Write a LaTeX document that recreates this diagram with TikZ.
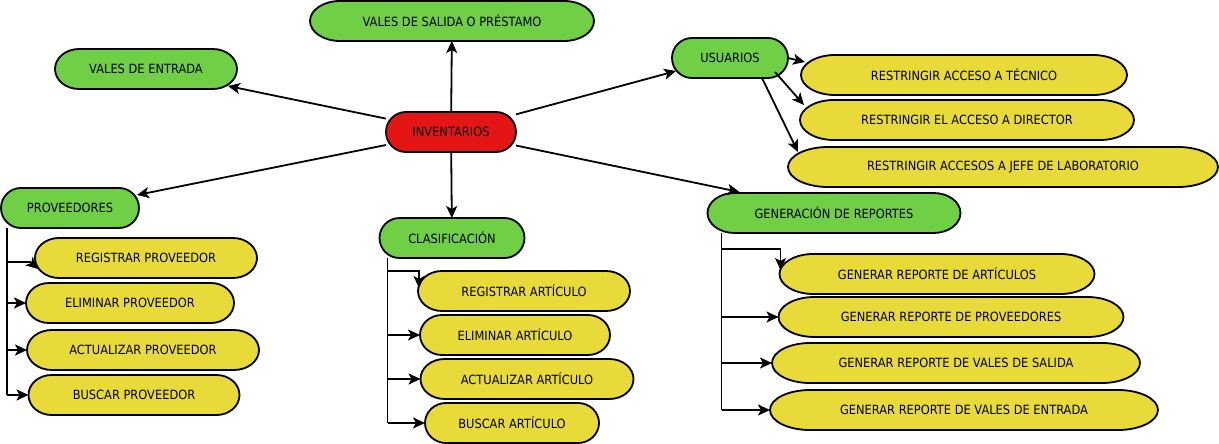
\documentclass[tikz,border=0pt]{standalone}
\usepackage{fontspec}
\setmainfont{DejaVu Sans}[FakeStretch=0.9]
\usetikzlibrary{arrows.meta,backgrounds}
\definecolor{gr}{HTML}{6FCF45}
\definecolor{ye}{HTML}{E8DA39}
\definecolor{rd}{HTML}{E31515}
\tikzset{
  box/.style={minimum height=40pt, inner sep=0pt, outer sep=0pt, font=\fontsize{12.7}{15}\selectfont, text=black},
  conn/.style={line width=1.8pt, draw=black},
  arr/.style={conn, -{Stealth[length=12pt,width=11pt,inset=3pt]}},
  pillline/.style={draw=black, line width=1.8pt},
}
\newcommand\pillshape[3]{%
  \path[pillline, fill=#3] ([xshift=#2pt]#1.north west) -- ([xshift=-#2pt]#1.north east)
    arc[start angle=90, end angle=-90, x radius=#2pt, y radius=20pt]
    -- ([xshift=#2pt]#1.south west)
    arc[start angle=270, end angle=90, x radius=#2pt, y radius=20pt] -- cycle;}
\begin{document}
\begin{tikzpicture}[x=1pt,y=-1pt]
\useasboundingbox (0,0) rectangle (1219,444);
% central
\node[box, minimum width=130pt] (inv) at (451,132) {INVENTARIOS};
% green
\node[box, minimum width=284pt] (vs) at (452,21) {VALES DE SALIDA O PRÉSTAMO};
\node[box, minimum width=182pt] (ve) at (146,69) {VALES DE ENTRADA};
\node[box, minimum width=116pt] (usu) at (730,58) {USUARIOS};
\node[box, minimum width=138pt] (prov) at (70,208) {PROVEEDORES};
\node[box, minimum width=145pt] (clas) at (452,238) {CLASIFICACIÓN};
\node[box, minimum width=253pt] (gen) at (834,213) {GENERACIÓN DE REPORTES};
% usuarios
\node[box, minimum width=326pt] (tec) at (964,75) {RESTRINGIR ACCESO A TÉCNICO};
\node[box, minimum width=334pt] (dir) at (967,120) {RESTRINGIR EL ACCESO A DIRECTOR};
\node[box, minimum width=430pt] (jefe) at (1003,167) {RESTRINGIR ACCESOS A JEFE DE LABORATORIO};
% proveedores
\node[box, minimum width=222pt] (regp) at (146,258) {REGISTRAR PROVEEDOR};
\node[box, minimum width=208pt] (elip) at (130,303) {ELIMINAR PROVEEDOR};
\node[box, minimum width=232pt] (actp) at (143,350) {ACTUALIZAR PROVEEDOR};
\node[box, minimum width=211pt] (busp) at (134,395) {BUSCAR PROVEEDOR};
% articulos
\node[box, minimum width=212pt] (rega) at (524,291) {REGISTRAR ARTÍCULO};
\node[box, minimum width=190pt] (elia) at (515,335) {ELIMINAR ARTÍCULO};
\node[box, minimum width=213pt] (acta) at (527,379) {ACTUALIZAR ARTÍCULO};
\node[box, minimum width=174pt] (busa) at (512,423) {BUSCAR ARTÍCULO};
% reportes
\node[box, minimum width=315pt] (r1) at (937,274) {GENERAR REPORTE DE ARTÍCULOS};
\node[box, minimum width=345pt] (r2) at (951,317) {GENERAR REPORTE DE PROVEEDORES};
\node[box, minimum width=368pt] (r3) at (956,363) {GENERAR REPORTE DE VALES DE SALIDA};
\node[box, minimum width=388pt] (r4) at (964,410) {GENERAR REPORTE DE VALES DE ENTRADA};

\begin{scope}[on background layer]
\pillshape{inv}{20}{rd}
\pillshape{vs}{30}{gr}
\pillshape{ve}{24}{gr}
\pillshape{usu}{20}{gr}
\pillshape{prov}{20}{gr}
\pillshape{clas}{20}{gr}
\pillshape{gen}{27}{gr}
\pillshape{tec}{34}{ye}
\pillshape{dir}{34}{ye}
\pillshape{jefe}{40}{ye}
\pillshape{regp}{24}{ye}
\pillshape{elip}{23}{ye}
\pillshape{actp}{25}{ye}
\pillshape{busp}{23}{ye}
\pillshape{rega}{24}{ye}
\pillshape{elia}{22}{ye}
\pillshape{acta}{24}{ye}
\pillshape{busa}{21}{ye}
\pillshape{r1}{34}{ye}
\pillshape{r2}{36}{ye}
\pillshape{r3}{38}{ye}
\pillshape{r4}{40}{ye}
\end{scope}

% main arrows
\draw[arr] (inv) -- (vs);
\draw[arr] (inv) -- ([shift={(-9,17)}]ve.east);
\draw[arr] (inv) -- ([shift={(4,-7)}]usu.south west);
\draw[arr] (inv) -- ([shift={(-2,-13)}]prov.east);
\draw[arr] (inv) -- (clas);
\draw[arr] (inv) -- ([shift={(32,-1)}]gen.north west);
% usuarios arrows
\draw[arr] (usu.east) -- ([shift={(4,-13)}]tec.west);
\draw[arr] ([shift={(-13,14)}]usu.east) -- ([shift={(4,-15)}]dir.west);
\draw[arr] ([shift={(-26,0)}]usu.south east) -- ([shift={(10,-15)}]jefe.west);
% proveedores tree
\coordinate (pv) at ([xshift=6pt]prov.south west);
\coordinate (pvb) at (pv |- busp.west);
\coordinate (pv1) at ([shift={(0,4)}]pv |- regp.west);
\coordinate (pv1b) at ([shift={(-5,4)}]regp.west);
\draw[conn] (pv) -- (pvb);
\draw[arr] (pv1) -- (pv1b) -- ([shift={(3,11)}]regp.west);
\draw[arr] (pv |- elip.west) -- (elip.west);
\draw[arr] (pv |- actp.west) -- (actp.west);
\draw[arr] (pv |- busp.west) -- (busp.west);
% clasificacion tree
\coordinate (cv) at ([xshift=8pt]clas.south west);
\coordinate (cvb) at (cv |- busa.west);
\coordinate (cv1) at ([shift={(0,13)}]cv);
\draw[conn] (cv) -- (cvb);
\draw[arr] (cv1) -| ([shift={(1,-3)}]rega.west);
\draw[arr] (cv |- elia.west) -- (elia.west);
\draw[arr] (cv |- acta.west) -- (acta.west);
\draw[arr] (cv |- busa.west) -- (busa.west);
% reportes tree
\coordinate (gv) at ([xshift=14pt]gen.south west);
\coordinate (gvb) at (gv |- r4.west);
\coordinate (gv1) at ([shift={(0,16)}]gv);
\draw[conn] (gv) -- (gvb);
\draw[arr] (gv1) -| ([shift={(1,-4)}]r1.west);
\draw[arr] (gv |- r2.west) -- (r2.west);
\draw[arr] (gv |- r3.west) -- (r3.west);
\draw[arr] (gv |- r4.west) -- (r4.west);
\end{tikzpicture}
\end{document}
